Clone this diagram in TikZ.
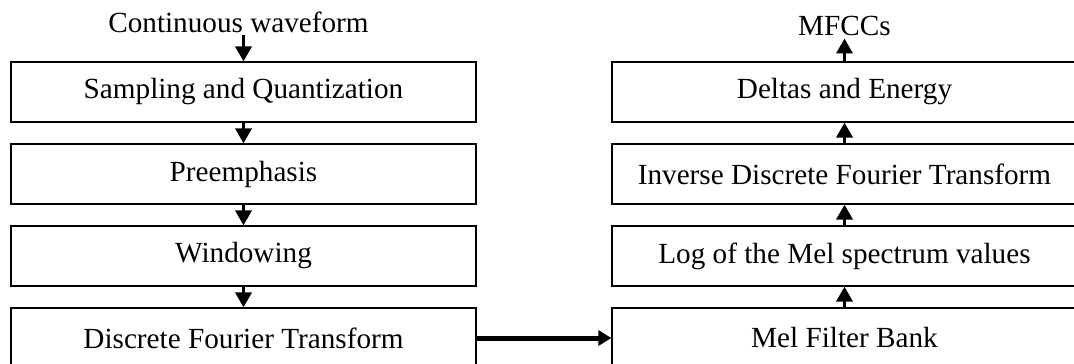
\documentclass[tikz,border=0pt]{standalone}
\usepackage{fontspec}
\setmainfont{Liberation Serif}
\usetikzlibrary{arrows.meta}
\begin{document}
\begin{tikzpicture}[x=1pt,y=-1pt,
  stage/.style={draw=black,line width=1.2pt,minimum width=465pt,minimum height=60pt,
    inner sep=0pt,font=\fontsize{29.2}{34}\selectfont},
  label/.style={inner sep=3pt,font=\fontsize{29.2}{34}\selectfont},
  flow/.style={line width=3.5pt,-{Triangle[length=15pt,width=16pt]}},
  hflow/.style={line width=5pt,-{Triangle[length=13pt,width=15pt]}}]
\useasboundingbox (0,0) rectangle (1074,364);

% Analysis chain (left column)
\node[label,anchor=base] (wave) at (238.5,32) {Continuous waveform};
\node[stage] (l1) at (243.5,92)  {Sampling and Quantization};
\node[stage] (l2) at (243.5,174) {Preemphasis};
\node[stage] (l3) at (243.5,256) {Windowing};
\node[stage] (l4) at (243.5,338) {Discrete Fourier Transform};

% Cepstral chain (right column, bottom to top)
\node[stage] (r4) at (844.5,338) {Mel Filter Bank};
\node[stage] (r3) at (844.5,256) {Log of the Mel spectrum values};
\node[stage] (r2) at (844.5,174) {Inverse Discrete Fourier Transform};
\node[stage] (r1) at (844.5,92)  {Deltas and Energy};
\node[label,anchor=base] (mfcc) at (844.5,35) {MFCCs};

\draw[flow] (wave.south -| l1.north) -- (l1.north);
\draw[flow] (l1.south) -- (l2.north);
\draw[flow] (l2.south) -- (l3.north);
\draw[flow] (l3.south) -- (l4.north);
\draw[hflow] (l4.east) -- (r4.west);
\draw[flow] (r4.north) -- (r3.south);
\draw[flow] (r3.north) -- (r2.south);
\draw[flow] (r2.north) -- (r1.south);
\draw[flow] (r1.north) -- (mfcc.south);
\end{tikzpicture}
\end{document}
